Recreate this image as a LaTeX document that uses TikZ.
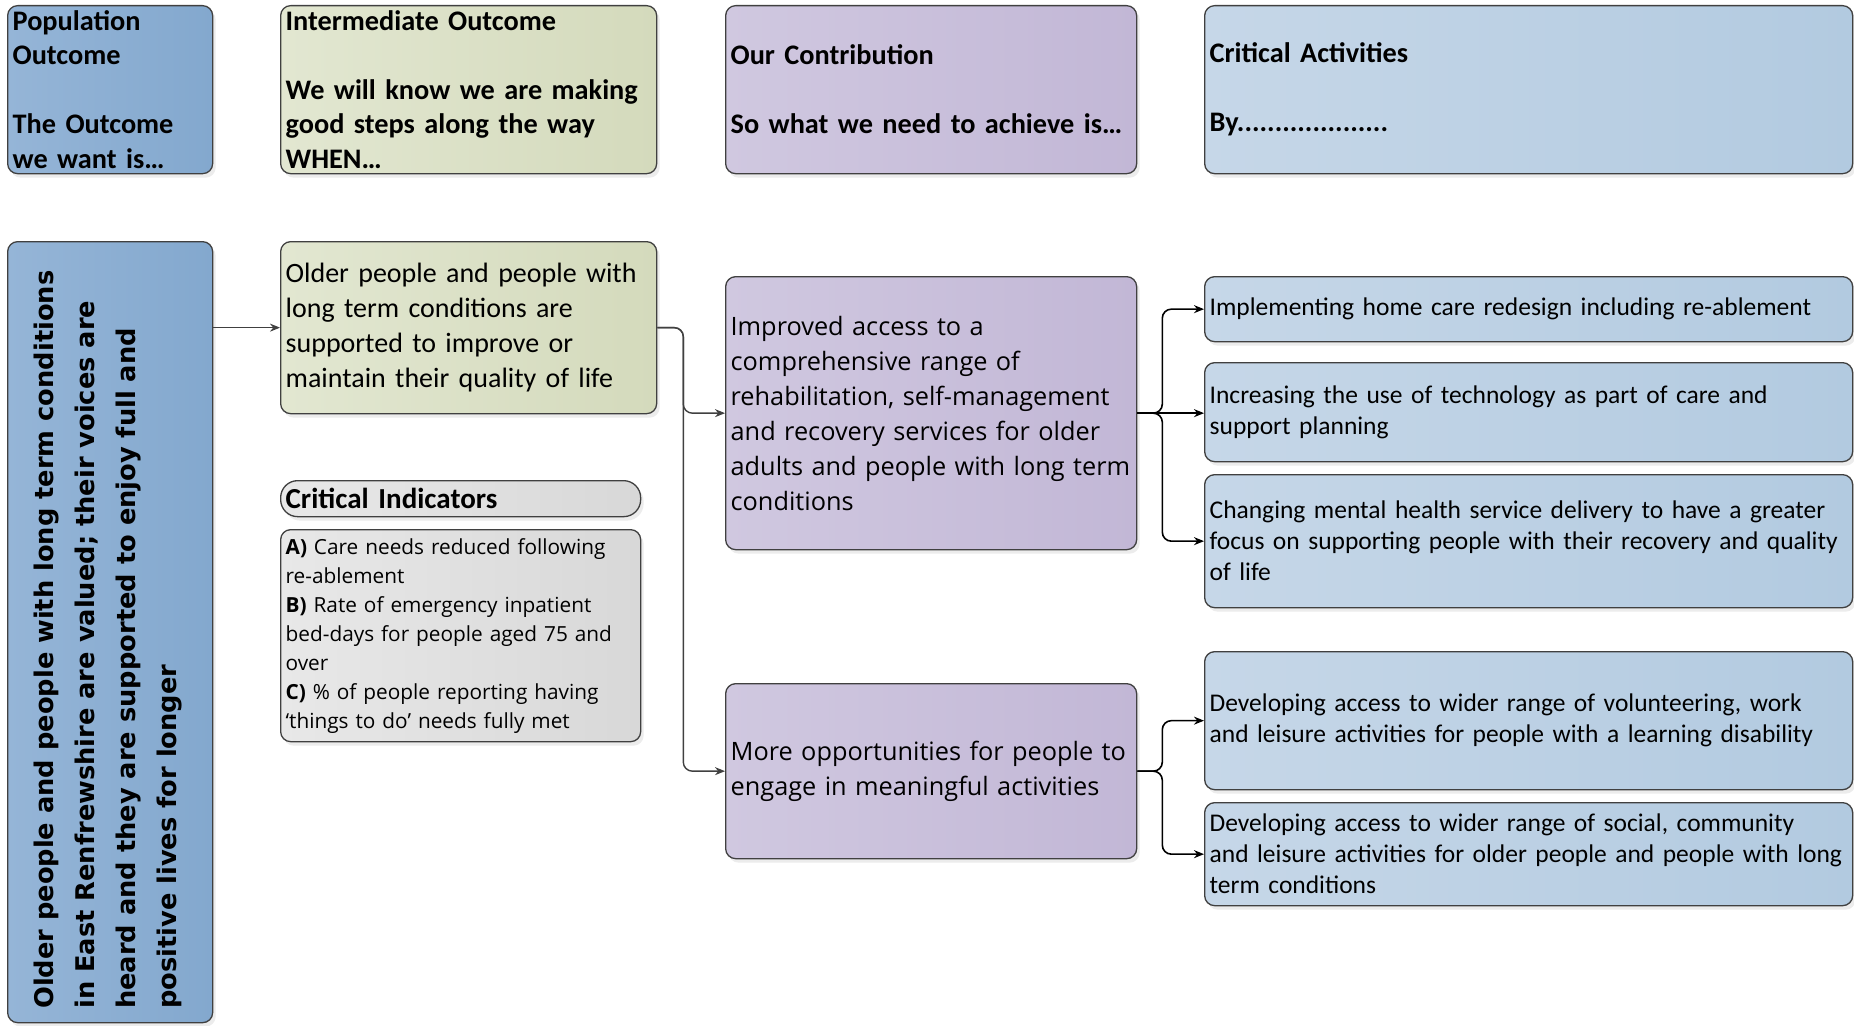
\documentclass[tikz,border=0pt]{standalone}
\usepackage{fontspec}
\setmainfont{Carlito}
\newfontfamily\segfont{Open Sans}
\newfontfamily\vfont{DejaVu Sans}
\usetikzlibrary{arrows.meta,shadows}
\definecolor{popA}{HTML}{95B5D7}
\definecolor{popB}{HTML}{83A8CE}
\definecolor{intA}{HTML}{E2E7D1}
\definecolor{intB}{HTML}{D4DABC}
\definecolor{conA}{HTML}{D0C8E0}
\definecolor{conB}{HTML}{C2B7D6}
\definecolor{actA}{HTML}{C6D7E8}
\definecolor{actB}{HTML}{B2CAE0}
\definecolor{indA}{HTML}{E8E8E8}
\definecolor{indB}{HTML}{D8D8D8}
\definecolor{edgecol}{HTML}{404040}
\newcommand{\hdfont}{\bfseries\fontsize{28.3}{34.5}\selectfont}
\newcommand{\bodyfont}{\fontsize{28}{35}\selectfont}
\newcommand{\actfont}{\fontsize{25.5}{31}\selectfont}
\newcommand{\impfont}{\segfont\fontsize{25.3}{35}\selectfont}
\newcommand{\indfont}{\segfont\fontsize{20.8}{29}\selectfont}
\begin{document}
\begin{tikzpicture}[x=1pt,y=1pt,
  box/.style={draw=edgecol, line width=1.3pt, rounded corners=10pt,
    inner xsep=5pt, inner ysep=0pt, align=left, anchor=north west,
    drop shadow={shadow xshift=3pt,shadow yshift=-4pt,opacity=0.15}},
  popfill/.style={left color=popA, right color=popB},
  intfill/.style={left color=intA, right color=intB},
  confill/.style={left color=conA, right color=conB},
  actfill/.style={left color=actA, right color=actB},
  indfill/.style={left color=indA, right color=indB},
  garrow/.style={draw=edgecol, line width=1.4pt, rounded corners=9pt,
    -{Stealth[length=10pt,width=8pt]}},
  barrow/.style={draw=black, line width=1.6pt, rounded corners=9pt,
    -{Stealth[length=10pt,width=8pt]}}]
\useasboundingbox[fill=white] (0,0) rectangle (1854,-1025);

% header row
\node[box, popfill, text width=195pt, minimum height=168pt, font=\hdfont] (popH) at (7,-5)
  {Population\\Outcome\\[34.5pt]\mbox{The Outcome}\\\mbox{we want is…}};
\node[box, intfill, text width=366pt, minimum height=168pt, font=\hdfont] (intH) at (280,-5)
  {\mbox{Intermediate Outcome}\\[34.5pt]\mbox{We will know we are making}\\\mbox{good steps along the way}\\WHEN…};
\node[box, confill, text width=401pt, minimum height=168pt, font=\hdfont] (conH) at (725,-5)
  {Our Contribution\\[34.5pt]\mbox{So what we need to achieve is…}};
\node[box, actfill, text width=638pt, minimum height=168pt, font=\hdfont] (actH) at (1204,-5)
  {Critical Activities\\[34.5pt]By....................};

% population outcome
\node[box, popfill, text width=195pt, minimum height=781pt] (pop) at (7,-241) {};
\node[rotate=90, anchor=north west, align=left, inner sep=0pt,
  font=\vfont\bfseries\fontsize{25.7}{41}\selectfont] (popT) at (34,-1009)
  {Older people and people with long term conditions\\
   in East Renfrewshire are valued; their voices are\\
   heard and they are supported to enjoy full and\\
   positive lives for longer};

% intermediate outcome
\node[box, intfill, text width=366pt, minimum height=172pt, font=\bodyfont] (int) at (280,-241)
  {Older people and people with\\long term conditions are\\supported to improve or\\maintain their quality of life};

% critical indicators
\node[box, indfill, rounded corners=17pt, text width=350pt, minimum height=36pt,
  font=\bfseries\fontsize{29}{32}\selectfont] (ciT) at (280,-480) {Critical Indicators};
\node[box, indfill, text width=350pt, minimum height=212pt, font=\indfont] (ci) at (280,-529)
  {\mbox{\textbf{A)} Care needs reduced following}\\re-ablement\\
   \mbox{\textbf{B)} Rate of emergency inpatient}\\\mbox{bed-days for people aged 75 and}\\over\\
   \mbox{\textbf{C)} \% of people reporting having}\\\mbox{‘things to do’ needs fully met}};

% contributions
\node[box, confill, text width=401pt, minimum height=273pt, font=\impfont] (imp) at (725,-276)
  {Improved access to a\\comprehensive range of\\\mbox{rehabilitation, self-management}\\\mbox{and recovery services for older}\\\mbox{adults and people with long term}\\conditions};
\node[box, confill, text width=401pt, minimum height=175pt, font=\impfont] (more) at (725,-683)
  {\mbox{More opportunities for people to}\\\mbox{engage in meaningful activities}};

% activities
\node[box, actfill, text width=638pt, minimum height=65pt, font=\actfont] (a1) at (1204,-276)
  {\mbox{Implementing home care redesign including re-ablement}};
\node[box, actfill, text width=638pt, minimum height=99pt, font=\actfont] (a2) at (1204,-362)
  {\mbox{Increasing the use of technology as part of care and}\\support planning};
\node[box, actfill, text width=638pt, minimum height=133pt, font=\actfont] (a3) at (1204,-474)
  {\mbox{Changing mental health service delivery to have a greater}\\\mbox{focus on supporting people with their recovery and quality}\\of life};
\node[box, actfill, text width=638pt, minimum height=138pt, font=\actfont] (a4) at (1204,-651)
  {\mbox{Developing access to wider range of volunteering, work}\\\mbox{and leisure activities for people with a learning disability}};
\node[box, actfill, text width=638pt, minimum height=103pt, font=\actfont] (a5) at (1204,-802)
  {\mbox{Developing access to wider range of social, community}\\\mbox{and leisure activities for older people and people with long}\\term conditions};

% connectors
\draw[garrow] (pop.east |- int.west) -- (int.west);
\draw[garrow] (int.east) -- ++(26,0) |- (imp.west);
\draw[garrow] (int.east) -- ++(26,0) |- (more.west);
\draw[barrow] (imp.east) -- ++(25,0) |- (a1.west);
\draw[barrow] (imp.east) -- (imp.east -| a2.west);
\draw[barrow] (imp.east) -- ++(25,0) |- (a3.west);
\draw[barrow] (more.east) -- ++(25,0) |- (a4.west);
\draw[barrow] (more.east) -- ++(25,0) |- (a5.west);
\end{tikzpicture}
\end{document}
